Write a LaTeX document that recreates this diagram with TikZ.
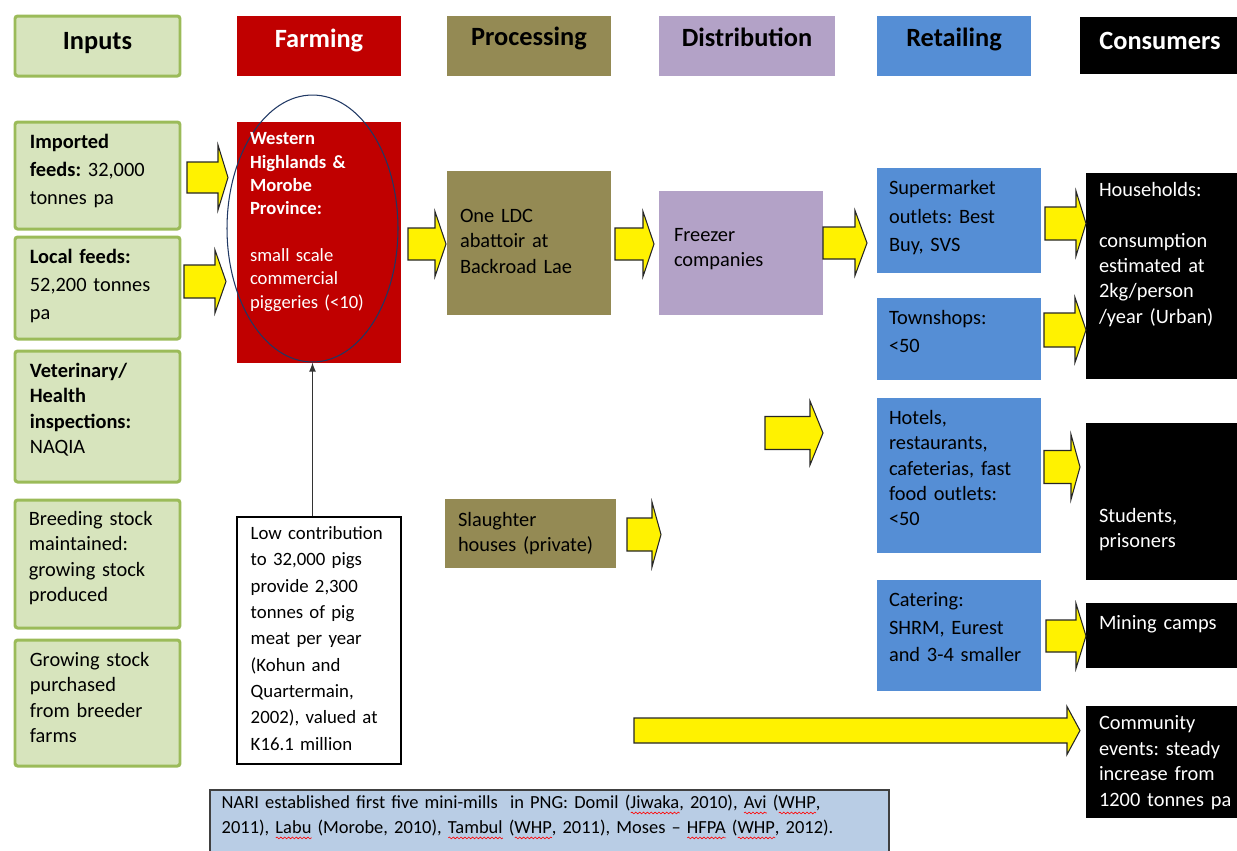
\documentclass[tikz,border=0pt]{standalone}
\usepackage{fontspec}
\setmainfont{Carlito}
\usetikzlibrary{shapes.geometric,positioning,fit,arrows,decorations.pathmorphing}

\definecolor{inGreen}{HTML}{D7E4BD}
\definecolor{inLine}{HTML}{9BBB59}
\definecolor{farmRed}{HTML}{C00000}
\definecolor{procOlive}{HTML}{948A54}
\definecolor{distLilac}{HTML}{B3A2C7}
\definecolor{retBlue}{HTML}{558ED5}
\definecolor{nariBlue}{HTML}{B9CDE5}
\definecolor{ovalNavy}{HTML}{203864}

% red wavy underline under a word
\newsavebox{\splbox}
\newcommand{\spl}[1]{\sbox{\splbox}{#1}\rlap{\tikz[baseline=0pt]\draw[red, line width=0.35pt, decorate, decoration={snake, amplitude=0.5pt, segment length=2.2pt}] (0pt,-2.6pt) -- (\the\wd\splbox,-2.6pt);}\usebox{\splbox}}
% block arrow: x start, x head, x tip, y centre, half shaft, half head
\newcommand{\yarr}[6]{\draw[yarrow] (#1,#4-#5) -- (#2,#4-#5) -- (#2,#4-#6) -- (#3,#4) -- (#2,#4+#6) -- (#2,#4+#5) -- (#1,#4+#5) -- cycle;}

\begin{document}
\frenchspacing
\begin{tikzpicture}[x=0.02cm, y=-0.02cm,
    inbox/.style={fill=inGreen, draw=inLine, line width=1.7pt, rounded corners=1.5pt, inner sep=0pt},
    plainbox/.style={draw=none, inner sep=0pt},
    txt/.style={anchor=base west, text width=4cm, align=left, inner sep=0pt, font=\fontsize{11.6}{14.4}\selectfont},
    hd/.style={anchor=base, inner sep=0pt, font=\fontsize{15}{18}\selectfont\bfseries},
    yarrow/.style={fill=yellow, draw=black!85, line width=0.6pt, line join=miter}]
  \useasboundingbox (0,0) rectangle (1237,850);

  % column headers
  \node[inbox, fit={(15,16) (180,76)}] (hIn) {};
  \node[plainbox, fill=farmRed, fit={(237,16) (401,76)}] (hFarm) {};
  \node[plainbox, fill=procOlive, fit={(447,16) (611,76)}] (hProc) {};
  \node[plainbox, fill=distLilac, fit={(659,16) (835,76)}] (hDist) {};
  \node[plainbox, fill=retBlue, fit={(877,16) (1031,76)}] (hRet) {};
  \node[plainbox, fill=black, fit={(1080,17) (1240,74)}] (hCons) {};
  \node[hd] (hInT) at ([shift={(0,35)}]hIn.north) {Inputs};
  \node[hd, text=white] (hFarmT) at ([shift={(0,32)}]hFarm.north) {Farming};
  \node[hd] (hProcT) at ([shift={(0,30)}]hProc.north) {Processing};
  \node[hd] (hDistT) at ([shift={(0,31)}]hDist.north) {Distribution};
  \node[hd] (hRetT) at ([shift={(0,31)}]hRet.north) {Retailing};
  \node[hd, text=white] (hConsT) at ([shift={(0,33)}]hCons.north) {Consumers};

  % inputs
  \node[inbox, fit={(15,122) (180,229)}] (imp) {};
  \node[inbox, fit={(15,237) (180,339)}] (loc) {};
  \node[inbox, fit={(15,351) (180,482)}] (vet) {};
  \node[inbox, fit={(15,500) (180,628)}] (brd) {};
  \node[inbox, fit={(15,640) (180,766)}] (grw) {};
  \node[txt, font=\fontsize{11.6}{15.9}\selectfont] (impT) at ([shift={(16,28)}]imp.north west) {\textbf{Imported}\\\textbf{feeds:} 32,000\\tonnes pa};
  \node[txt, font=\fontsize{11.6}{15.9}\selectfont] (locT) at ([shift={(16,28)}]loc.north west) {\textbf{Local feeds:}\\52,200 tonnes\\pa};
  \node[txt] (vetT) at ([shift={(16,28)}]vet.north west) {\textbf{Veterinary/}\\\textbf{Health}\\\textbf{inspections:}\\NAQIA};
  \node[txt] (brdT) at ([shift={(15,27)}]brd.north west) {Breeding stock\\maintained:\\growing stock\\produced};
  \node[txt] (grwT) at ([shift={(16,28)}]grw.north west) {Growing stock\\purchased\\from breeder\\farms};

  % farming
  \node[plainbox, fill=farmRed, fit={(237,122) (401,363)}] (farm) {};
  \node[ellipse, draw=ovalNavy, line width=0.6pt, inner sep=0pt, minimum width=3.42cm, minimum height=5.34cm] (oval) at (312.5,228.5) {};
  \node[txt, text=white, font=\fontsize{10.6}{13.3}\selectfont] (farmT) at ([shift={(13,23)}]farm.north west) {\textbf{Western}\\\textbf{Highlands \&}\\\textbf{Morobe}\\\textbf{Province:}\\[13.3pt]small scale\\commercial\\piggeries (<10)};
  \node[plainbox, draw=black, line width=0.7pt, fill=white, fit={(237,517) (401,764)}] (note) {};
  \node[txt, font=\fontsize{10.7}{15}\selectfont] (noteT) at ([shift={(14,23)}]note.north west) {Low contribution\\to 32,000 pigs\\provide 2,300\\tonnes of pig\\meat per year\\(Kohun and\\Quartermain,\\2002), valued at\\K16.1 million};
  \draw[-latex, line width=0.8pt, black!80] (oval.south |- note.north) -- (oval.south);

  % processing and distribution
  \node[plainbox, fill=procOlive, fit={(447,171) (611,315)}] (ldc) {};
  \node[plainbox, fill=procOlive, fit={(445,499) (616,568)}] (slt) {};
  \node[plainbox, fill=distLilac, fit={(659,191) (823,315)}] (frz) {};
  \node[txt] (ldcT) at ([shift={(13,52)}]ldc.north west) {One LDC\\abattoir at\\Backroad Lae};
  \node[txt] (sltT) at ([shift={(13,28)}]slt.north west) {Slaughter\\houses (private)};
  \node[txt] (frzT) at ([shift={(15,51)}]frz.north west) {Freezer\\companies};

  % retailing
  \node[plainbox, fill=retBlue, fit={(877,168) (1041,273)}] (sup) {};
  \node[plainbox, fill=retBlue, fit={(877,298) (1041,380)}] (twn) {};
  \node[plainbox, fill=retBlue, fit={(877,398) (1041,553)}] (htl) {};
  \node[plainbox, fill=retBlue, fit={(877,580) (1041,691)}] (cat) {};
  \node[txt, font=\fontsize{11.6}{16.2}\selectfont] (supT) at ([shift={(12,27)}]sup.north west) {Supermarket\\outlets: Best\\Buy, SVS};
  \node[txt, font=\fontsize{11.6}{15.9}\selectfont] (twnT) at ([shift={(12,27)}]twn.north west) {Townshops:\\<50};
  \node[txt] (htlT) at ([shift={(12,27)}]htl.north west) {Hotels,\\restaurants,\\cafeterias, fast\\food outlets:\\<50};
  \node[txt, font=\fontsize{11.6}{15.6}\selectfont] (catT) at ([shift={(12,27)}]cat.north west) {Catering:\\SHRM, Eurest\\and 3-4 smaller};

  % consumers
  \node[plainbox, fill=black, fit={(1086,173) (1240,379)}] (hh) {};
  \node[plainbox, fill=black, fit={(1086,423) (1240,580)}] (stu) {};
  \node[plainbox, fill=black, fit={(1086,603) (1240,668)}] (mine) {};
  \node[plainbox, fill=black, fit={(1086,706) (1240,818)}] (com) {};
  \node[txt, text=white] (hhT) at ([shift={(13,24)}]hh.north west) {Households:\\[14.4pt]consumption\\estimated at\\2kg/person\\/year (Urban)};
  \node[txt, text=white] (stuT) at ([shift={(13,100)}]stu.north west) {Students,\\prisoners};
  \node[txt, text=white] (mineT) at ([shift={(13,27)}]mine.north west) {Mining camps};
  \node[txt, text=white, font=\fontsize{11.6}{14.6}\selectfont] (comT) at ([shift={(13,24)}]com.north west) {Community\\events: steady\\increase from\\1200 tonnes pa};

  % mini-mills note
  \node[plainbox, fill=nariBlue, draw=black!75, line width=0.7pt, fit={(210,790) (889,856)}] (nari) {};
  \node[txt, text width=13.3cm, font=\fontsize{10.5}{14.2}\selectfont] (nariT) at ([shift={(12,19)}]nari.north west) {NARI established first five mini-mills\ \ in PNG: Domil (\spl{Jiwaka}, 2010), \spl{Avi} (\spl{WHP},\\2011), \spl{Labu} (Morobe, 2010), \spl{Tambul} (\spl{WHP}, 2011), Moses -- \spl{HFPA} (\spl{WHP}, 2012).};

  % yellow flow arrows
  \yarr{187}{218}{228}{177.5}{15.5}{32.5}
  \yarr{184}{215}{226}{281.5}{16.5}{31.5}
  \yarr{408}{435}{446}{244}{16}{32.5}
  \yarr{615}{643}{654}{244}{16}{32.5}
  \yarr{823}{855}{867}{243}{16}{32.5}
  \yarr{1045}{1076}{1086}{223.5}{16.5}{32.5}
  \yarr{1044}{1075}{1086}{330}{17}{32.5}
  \yarr{765}{810}{823}{433}{16.5}{32}
  \yarr{1044}{1071}{1080}{467}{16.5}{32.5}
  \yarr{627}{652}{661}{534.5}{16.5}{32.5}
  \yarr{1046}{1076}{1086}{636}{16}{32.5}
  \yarr{634}{1067}{1080}{730.5}{12.5}{24}
\end{tikzpicture}
\end{document}
